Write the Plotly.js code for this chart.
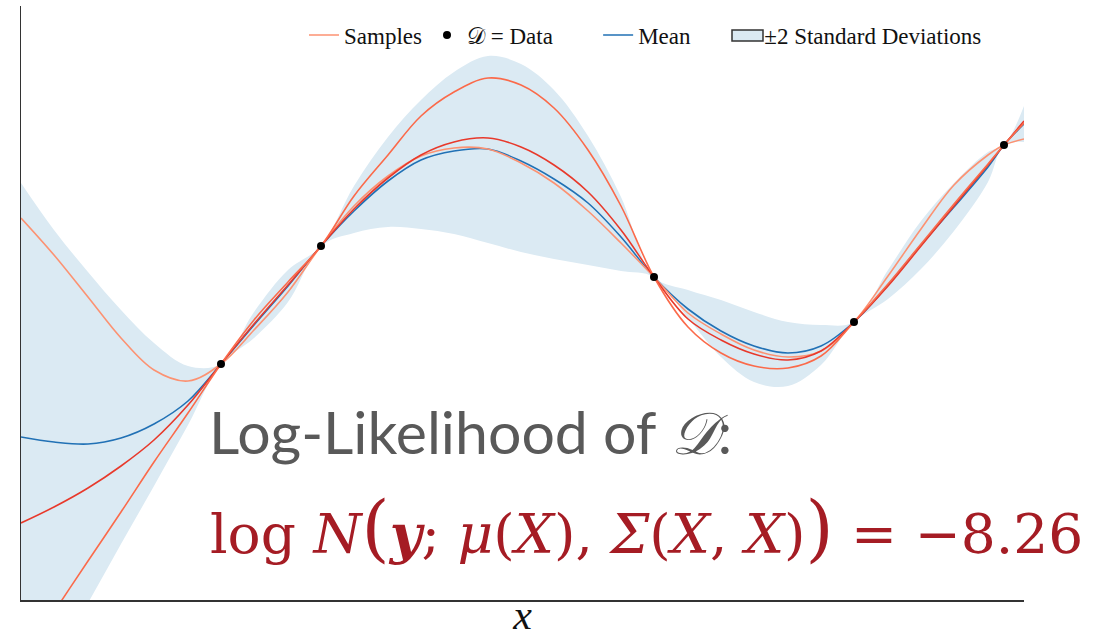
<!DOCTYPE html>
<html>
<head>
<meta charset="utf-8">
<script src="https://cdn.plot.ly/plotly-3.0.1.min.js"></script>
<style>
  html, body { margin: 0; padding: 0; background: #fff; }
  #chart { width: 1112px; height: 638px; }
</style>
</head>
<body>
<div id="chart"></div>
<script>
// Input locations shared by every curve
const xs = [0, 0.33, 0.67, 1, 1.33, 1.67, 2, 2.33, 2.67, 3, 3.33, 3.67, 4, 4.33, 4.67, 5,
            5.33, 5.67, 6, 6.33, 6.67, 7, 7.33, 7.67, 8, 8.33, 8.67, 9, 9.33, 9.67, 9.83, 10.03];

// Posterior mean
const meanY = [-0.37, -0.42, -0.44, -0.38, -0.24, -0.01, 0.36, 0.75, 1.14, 1.54, 1.89, 2.19, 2.40, 2.49, 2.51, 2.39,
               2.21, 1.97, 1.63, 1.23, 0.91, 0.69, 0.54, 0.47, 0.54, 0.78, 1.15, 1.55, 1.93, 2.33, 2.55, 2.76];

// Upper and lower edges of the +/-2 standard deviation band
const upperY = [2.17, 1.70, 1.28, 0.90, 0.57, 0.34, 0.36, 0.88, 1.30, 1.54, 2.14, 2.63, 3.00, 3.28, 3.44, 3.36,
                3.10, 2.64, 2.03, 1.23, 1.10, 1.00, 0.88, 0.78, 0.75, 0.78, 1.30, 1.79, 2.17, 2.48, 2.55, 2.94];
const lowerY = [-3.20, -2.62, -2.03, -1.44, -0.86, -0.25, 0.36, 0.62, 0.98, 1.54, 1.67, 1.73, 1.71, 1.66, 1.57, 1.48,
                1.41, 1.35, 1.29, 1.23, 0.82, 0.43, 0.18, 0.14, 0.35, 0.78, 1.01, 1.31, 1.69, 2.18, 2.55, 2.58];

// Three posterior draws
const sampleA = [1.82, 1.45, 1.03, 0.62, 0.30, 0.19, 0.36, 0.70, 1.08, 1.54, 1.94, 2.24, 2.44, 2.52, 2.51, 2.37,
                 2.17, 1.89, 1.57, 1.23, 0.87, 0.66, 0.50, 0.43, 0.49, 0.78, 1.24, 1.71, 2.15, 2.45, 2.55, 2.61];
const sampleB = [-1.23, -1.07, -0.88, -0.66, -0.40, -0.05, 0.36, 0.76, 1.15, 1.54, 1.91, 2.22, 2.45, 2.58, 2.62, 2.53,
                 2.35, 2.08, 1.70, 1.23, 0.81, 0.60, 0.46, 0.40, 0.49, 0.78, 1.14, 1.54, 1.94, 2.35, 2.55, 2.79];
const sampleC = [-2.62, -2.12, -1.61, -1.12, -0.62, -0.13, 0.36, 0.80, 1.18, 1.54, 2.04, 2.45, 2.84, 3.08, 3.22, 3.15,
                 2.92, 2.50, 1.94, 1.23, 0.73, 0.47, 0.34, 0.32, 0.44, 0.78, 1.16, 1.56, 1.96, 2.36, 2.55, 2.77];

// Observations
const dataX = [2.0, 3.0, 6.33, 8.33, 9.83];
const dataY = [0.36, 1.54, 1.23, 0.78, 2.55];

const logLik = -8.26;

const bandColor = '#dbeaf3';
const sampleColors = ['#fc9272', '#e8392b', '#fb6a4a'];
const meanColor = '#2171b5';
const curve = { shape: 'spline', smoothing: 1 };
const pad = n => '\u00a0'.repeat(n);

const traces = [
  { x: xs, y: lowerY, mode: 'lines', line: Object.assign({ width: 0 }, curve),
    hoverinfo: 'skip', showlegend: false },
  { x: xs, y: upperY, mode: 'lines', fill: 'tonexty', fillcolor: bandColor,
    line: Object.assign({ width: 0 }, curve), hoverinfo: 'skip', showlegend: false },
  { x: xs, y: meanY, mode: 'lines', name: 'Mean' + pad(5), legendrank: 3,
    line: Object.assign({ color: meanColor, width: 1.6 }, curve) },
  { x: xs, y: sampleA, mode: 'lines', name: 'Samples', legendgroup: 's', legendrank: 1,
    line: Object.assign({ color: sampleColors[0], width: 1.6 }, curve) },
  { x: xs, y: sampleB, mode: 'lines', name: 'Samples', legendgroup: 's', showlegend: false,
    line: Object.assign({ color: sampleColors[1], width: 1.6 }, curve) },
  { x: xs, y: sampleC, mode: 'lines', name: 'Samples', legendgroup: 's', showlegend: false,
    line: Object.assign({ color: sampleColors[2], width: 1.6 }, curve) },
  { x: dataX, y: dataY, mode: 'markers', name: '𝒟 = Data' + pad(7), legendrank: 2, cliponaxis: false,
    marker: { color: '#000', size: 8 } },
  // legend entry for the band; its outlined box is drawn as a layout shape
  { x: [null], y: [null], mode: 'lines', fill: 'toself', fillcolor: 'rgba(0,0,0,0)',
    name: '±2 Standard Deviations', legendrank: 4, line: { width: 0 } }
];

// plot-area pixel helpers
const plotL = 21, plotW = 1003, plotT = 6, plotH = 594;
const px = v => (v - plotL) / plotW;
const py = v => 1 - (v - plotT) / plotH;

const layout = {
  width: 1112, height: 638,
  margin: { l: plotL, r: 1112 - plotL - plotW, t: plotT, b: 638 - plotT - plotH },
  paper_bgcolor: '#fff', plot_bgcolor: '#fff',
  showlegend: true,
  legend: {
    orientation: 'h', x: px(304), xanchor: 'left', y: py(35), yanchor: 'middle',
    bgcolor: 'rgba(0,0,0,0)', font: { family: 'Liberation Serif', size: 23, color: '#111' },
    traceorder: 'normal'
  },
  xaxis: {
    range: [0, 10.03], showgrid: false, zeroline: false, showticklabels: false, ticks: '',
    showline: true, linecolor: '#333', linewidth: 1.5,
    title: { text: '<i>x</i>', font: { family: 'Liberation Serif', size: 42, color: '#111' }, standoff: 12 }
  },
  yaxis: {
    range: [-2.0, 3.94], showgrid: false, zeroline: false, showticklabels: false, ticks: '',
    showline: true, linecolor: '#333', linewidth: 1.5
  },
  shapes: [
    { type: 'rect', xref: 'paper', yref: 'paper', x0: px(732), x1: px(763), y0: py(41), y1: py(30),
      fillcolor: bandColor, line: { color: '#333', width: 1.5 } }
  ],
  annotations: [
    { xref: 'paper', yref: 'paper', x: px(207), y: py(431), xanchor: 'left', yanchor: 'middle',
      showarrow: false, text: 'Log-Likelihood of <i>𝒟</i>:',
      font: { family: 'Lato', size: 59, color: '#595959' } },
    { xref: 'paper', yref: 'paper', x: px(208), y: py(528), xanchor: 'left', yanchor: 'middle',
      showarrow: false,
      text: 'log <i>N</i><span style="font-size:72px">(</span><b><i>y</i></b>; <i>μ</i>(<i>X</i>), <i>Σ</i>(<i>X</i>, <i>X</i>)<span style="font-size:72px">)</span> = −' + Math.abs(logLik).toFixed(2),
      font: { family: 'DejaVu Serif', size: 55, color: '#a51c24' } }
  ]
};

Plotly.newPlot('chart', traces, layout, { staticPlot: true, displayModeBar: false });
</script>
</body>
</html>
